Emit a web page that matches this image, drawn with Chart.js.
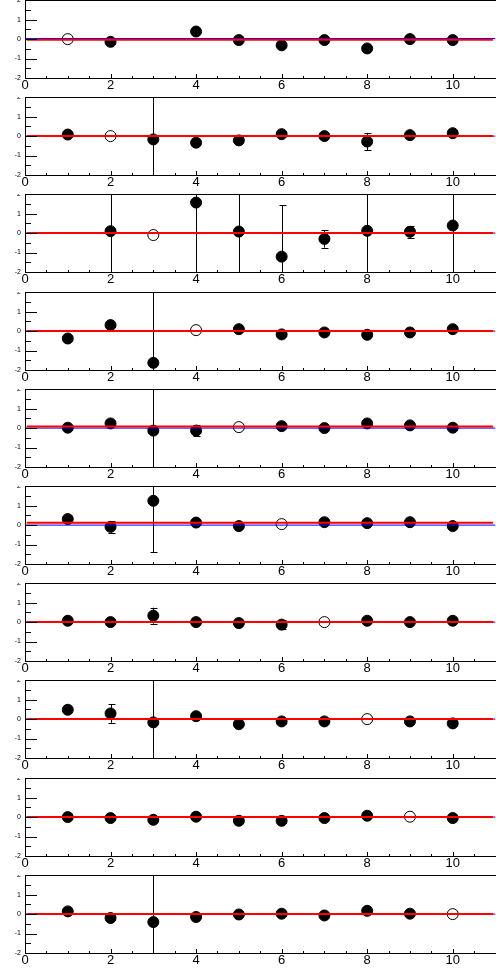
<!DOCTYPE html>
<html><head><meta charset="utf-8">
<script src="https://cdn.jsdelivr.net/npm/chart.js@4/dist/chart.umd.min.js"></script>
<style>
html,body{margin:0;padding:0;background:#fff;width:496px;height:972px;overflow:hidden;}
.p{position:absolute;left:0;width:496px;overflow:hidden;}
canvas{display:block;position:absolute;left:0;}
</style></head><body>
<div id="root"></div>
<script>
const xValues = [1, 2, 3, 4, 5, 6, 7, 8, 9, 10];
const xTickLabels = [0, 2, 4, 6, 8, 10];
const yTickLabels = [-2, -1, 0, 1, 2];

// point values per panel (null = no point)
const panel1  = [0.00, -0.14, null, 0.39, -0.05, -0.32, -0.05, -0.48, 0.00, -0.05];
const panel2  = [0.08, 0.00, -0.17, -0.34, -0.22, 0.10, 0.00, -0.28, 0.05, 0.15];
const panel3  = [null, 0.10, -0.10, 1.57, 0.08, -1.21, -0.30, 0.12, 0.07, 0.39];
const panel4  = [-0.38, 0.31, -1.63, 0.05, 0.10, -0.17, -0.07, -0.19, -0.07, 0.10];
const panel5  = [0.02, 0.24, -0.13, -0.13, 0.05, 0.10, 0.00, 0.24, 0.14, 0.02];
const panel6  = [0.31, -0.09, 1.25, 0.13, -0.05, 0.05, 0.15, 0.10, 0.15, -0.05];
const panel7  = [0.07, 0.00, 0.33, 0.00, -0.05, -0.13, 0.00, 0.07, 0.00, 0.07];
const panel8  = [0.48, 0.29, -0.17, 0.15, -0.26, -0.12, -0.12, 0.00, -0.12, -0.22];
const panel9  = [0.00, -0.05, -0.14, 0.02, -0.19, -0.19, -0.05, 0.07, 0.02, -0.05];
const panel10 = [0.14, -0.20, -0.41, -0.15, -0.02, 0.02, -0.07, 0.17, 0.02, 0.00];

// symmetric errors per panel
const err1  = [0.1, 0.1, 0.1, 0.1, 0.1, 0.1, 0.1, 0.1, 0.1, 0.1];
const err2  = [0.1, 0.1, 10, 0.1, 0.1, 0.1, 0.1, 0.45, 0.1, 0.1];
const err3  = [0.1, 10, 0.1, 10, 10, 2.65, 0.45, 10, 0.3, 10];
const err4  = [0.1, 0.1, 10, 0.1, 0.1, 0.1, 0.1, 0.1, 0.1, 0.1];
const err5  = [0.1, 0.1, 10, 0.3, 0.1, 0.1, 0.1, 0.1, 0.1, 0.1];
const err6  = [0.1, 0.3, 2.65, 0.1, 0.1, 0.1, 0.1, 0.1, 0.1, 0.1];
const err7  = [0.1, 0.1, 0.41, 0.1, 0.1, 0.25, 0.1, 0.1, 0.1, 0.1];
const err8  = [0.1, 0.48, 10, 0.1, 0.1, 0.1, 0.1, 0.1, 0.1, 0.1];
const err9  = [0.1, 0.1, 0.1, 0.1, 0.1, 0.1, 0.1, 0.1, 0.1, 0.1];
const err10 = [0.1, 0.1, 10, 0.1, 0.1, 0.1, 0.1, 0.1, 0.1, 0.1];

// fitted constant (red) and reference level (blue) per panel
const fitLevel  = [-0.03, 0.00, 0.00, 0.00, 0.08, 0.12, 0.00, 0.00, 0.00, 0.00];
const baseLevel = [0.03, 0.00, 0.00, 0.00, 0.00, 0.00, 0.00, 0.00, 0.00, 0.00];
// x of the open (reference) marker in each panel
const openX = [1, 2, 3, 4, 5, 6, 7, 8, 9, 10];
const fitRange = [0.04, 10.94];
const baseRange = [0, 11];

const panels = [panel1, panel2, panel3, panel4, panel5, panel6, panel7, panel8, panel9, panel10];
const errs = [err1, err2, err3, err4, err5, err6, err7, err8, err9, err10];

const W = 496, TOTAL = 972, N = 10, PLOT_H = 78, PLOT_L = 25, PLOT_R = 495;
const root = document.getElementById('root');

const errorBarPlugin = {
  id: 'errbars',
  beforeDatasetsDraw(chart, args, opts) {
    const {ctx, chartArea: a, scales: {x, y}} = chart;
    const vals = opts.vals, ev = opts.errs;
    if (!vals || !ev) return;
    ctx.save();
    ctx.beginPath();
    ctx.rect(a.left, a.top, a.right - a.left, a.bottom - a.top);
    ctx.clip();
    ctx.strokeStyle = '#000';
    ctx.lineWidth = 1;
    vals.forEach((v, i) => {
      if (v === null) return;
      const px = Math.round(x.getPixelForValue(xValues[i])) + 0.5;
      const t = y.getPixelForValue(v + ev[i]);
      const b = y.getPixelForValue(v - ev[i]);
      ctx.beginPath();
      ctx.moveTo(px, t); ctx.lineTo(px, b);
      ctx.moveTo(px - 3, Math.round(t) + 0.5); ctx.lineTo(px + 4, Math.round(t) + 0.5);
      ctx.moveTo(px - 3, Math.round(b) + 0.5); ctx.lineTo(px + 4, Math.round(b) + 0.5);
      ctx.stroke();
    });
    ctx.restore();
  }
};

const framePlugin = {
  id: 'frame',
  afterDraw(chart) {
    const {ctx, chartArea: a, scales: {x, y}} = chart;
    ctx.save();
    ctx.strokeStyle = '#000';
    ctx.lineWidth = 1;
    ctx.strokeRect(Math.round(a.left) + 0.5, Math.round(a.top) + 0.5,
                   Math.round(a.right - a.left), Math.round(a.bottom - a.top));
    ctx.beginPath();
    for (let v = y.min; v <= y.max + 1e-9; v += 0.5) {
      const py = Math.round(y.getPixelForValue(v)) + 0.5;
      const major = Math.abs(v - Math.round(v)) < 1e-9;
      ctx.moveTo(a.left, py); ctx.lineTo(a.left + (major ? 12 : 6), py);
    }
    for (let v = x.min; v <= x.max + 1e-9; v += 0.5) {
      const px = Math.round(x.getPixelForValue(v)) + 0.5;
      const major = Math.abs(v / 2 - Math.round(v / 2)) < 1e-9;
      ctx.moveTo(px, a.bottom); ctx.lineTo(px, a.bottom - (major ? 4 : 2));
    }
    ctx.stroke();
    ctx.restore();
  }
};

function buildConfig(i, xHeight) {
  const vals = panels[i];
  const pts = [], bg = [];
  vals.forEach((v, k) => {
    if (v === null) return;
    pts.push({x: xValues[k], y: v});
    bg.push(xValues[k] === openX[i] ? '#ffffff' : '#000000');
  });
  return {
    type: 'scatter',
    data: {
      datasets: [
        {type: 'line', data: [{x: fitRange[0], y: fitLevel[i]}, {x: fitRange[1], y: fitLevel[i]}],
         borderColor: '#ff0000', borderWidth: 2, pointRadius: 0, fill: false, order: 0},
        {type: 'line', data: [{x: baseRange[0], y: baseLevel[i]}, {x: baseRange[1], y: baseLevel[i]}],
         borderColor: '#0000ff', borderWidth: 1, pointRadius: 0, fill: false, order: 1},
        {data: pts, pointRadius: 5.5, pointBackgroundColor: bg, pointBorderColor: '#000',
         pointBorderWidth: 1, showLine: false, order: 2}
      ]
    },
    options: {
      responsive: false, animation: false, events: [],
      layout: {padding: 0},
      plugins: {legend: {display: false}, tooltip: {enabled: false},
                errbars: {vals: vals, errs: errs[i]}},
      scales: {
        x: {
          type: 'linear', min: 0, max: 11,
          afterBuildTicks: s => { s.ticks = xTickLabels.map(v => ({value: v})); },
          afterFit: s => { s.height = xHeight; },
          grid: {display: false, drawTicks: false}, border: {display: false},
          ticks: {color: '#000', padding: 0, maxRotation: 0, autoSkip: false,
                  font: {family: 'Liberation Sans', size: 13}}
        },
        y: {
          type: 'linear', min: -2, max: 2,
          afterBuildTicks: s => { s.ticks = yTickLabels.map(v => ({value: v})); },
          afterFit: s => { s.width = PLOT_L; },
          grid: {display: false, drawTicks: false}, border: {display: false},
          ticks: {color: '#000', padding: 4, font: {family: 'Liberation Sans', size: 7}}
        }
      }
    },
    plugins: [errorBarPlugin, framePlugin]
  };
}

for (let i = 0; i < N; i++) {
  const top = Math.round(i * TOTAL / N);
  const H = Math.round((i + 1) * TOTAL / N) - top;
  const xHeight = H - PLOT_H;
  const div = document.createElement('div');
  div.className = 'p';
  div.style.top = top + 'px';
  div.style.height = H + 'px';
  root.appendChild(div);

  // first pass: measure the padding Chart.js reserves
  let cv = document.createElement('canvas');
  cv.width = W; cv.height = H;
  div.appendChild(cv);
  let ch = new Chart(cv, buildConfig(i, xHeight));
  const a = ch.chartArea;
  const dTop = Math.round(a.top);
  const dRight = Math.round(PLOT_R - a.right);
  ch.destroy();
  div.removeChild(cv);

  // second pass: enlarged canvas so the plot area lands on the panel frame
  cv = document.createElement('canvas');
  const cw = W + Math.max(dRight, 0), chh = H + dTop;
  cv.width = cw; cv.height = chh;
  cv.style.width = cw + 'px'; cv.style.height = chh + 'px';
  cv.style.top = (-dTop) + 'px';
  div.appendChild(cv);
  new Chart(cv, buildConfig(i, xHeight));
}
</script>
</body></html>
